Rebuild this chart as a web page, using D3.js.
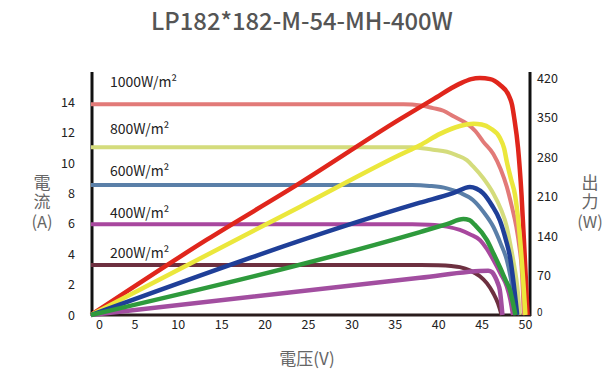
<!DOCTYPE html>
<html>
<head>
<meta charset="utf-8">
<script src="https://cdn.jsdelivr.net/npm/d3@7/dist/d3.min.js"></script>
<style>
  html, body { margin: 0; padding: 0; background: #fff; }
  svg { display: block; }
  text { font-family: "Noto Sans CJK SC", "Noto Sans", sans-serif; }
</style>
</head>
<body>
<svg id="chart" width="604" height="377"></svg>
<script>
// Irradiance levels
const irradiance = ["1000W/m²", "800W/m²", "600W/m²", "400W/m²", "200W/m²"];

// Tick labels
const voltTicks = [0, 5, 10, 15, 20, 25, 30, 35, 40, 45, 50];
const currentTicks = [0, 2, 4, 6, 8, 10, 12, 14];
const powerTicks = [0, 70, 140, 210, 280, 350, 420];

// I-V curves: [voltage V, current A]
const iv1000 = [[0,13.87],[36,13.87],[38,13.8],[39.4,13.62],[40.6,13.45],[41.7,13.1],[43.3,12.6],[44.3,12.1],[45.2,11.4],[46.35,10.6],[47.2,9.6],[47.9,8.45],[48.5,7.1],[49.0,5.8],[49.35,4.5],[49.6,3.2],[49.75,1.6],[49.85,0]];
const iv800 = [[0,11.05],[37,11.05],[39.4,10.88],[41,10.75],[42.1,10.53],[43.3,10.2],[44,9.8],[45.2,9.0],[46.35,8.0],[47.2,7.0],[47.9,5.81],[48.3,4.7],[48.65,3.62],[49.0,2.4],[49.2,1.43],[49.4,0]];
const iv600 = [[0,8.56],[37,8.56],[39,8.5],[41,8.34],[42.5,8.05],[44,7.57],[45.2,6.8],[46.35,5.81],[47.2,4.7],[47.9,3.62],[48.3,2.6],[48.65,1.45],[49.0,0]];
const iv400 = [[0,5.97],[37,5.97],[39,5.94],[41,5.82],[42.5,5.6],[43.7,5.3],[44.8,4.94],[45.6,4.35],[46.35,3.62],[47.2,2.7],[47.9,1.86],[48.3,1.0],[48.6,0]];
const iv200 = [[0,3.29],[38,3.29],[40,3.27],[41.5,3.22],[42.5,3.15],[43.7,2.92],[44.8,2.55],[45.6,2.1],[46.35,1.43],[46.9,0.75],[47.3,0]];

// P-V curves: [voltage V, power W]
const pv1000 = [[0,0],[13.3,133],[24.1,234],[35.6,347],[39.4,382],[42.5,410],[43.8,418],[44.8,420],[46,418],[47.1,408],[48.1,390],[48.5,373],[48.75,350],[49.2,296],[49.6,213],[49.95,110],[50.3,0]];
const pv800 = [[0,0],[24.1,192],[35.6,284],[37.9,301],[40.2,321],[42.5,335],[44.06,339],[45,337.5],[46.0,331],[47.1,314],[47.6,295],[47.9,272],[48.4,240],[48.85,213],[49.4,140],[49.8,60],[50.05,0]];
const pv600 = [[0,0],[37.9,199],[41.7,216],[43.66,227],[44.4,224],[45.16,216],[46.2,194],[47.1,168],[47.8,133],[48.27,103],[48.7,55],[49.1,0]];
const pv400 = [[0,0],[37.9,147],[41,161],[42.9,170],[43.6,168],[44.2,160],[45.6,133],[46.4,108],[47.1,85],[47.7,64],[48.27,44],[48.7,15],[48.9,0]];
const pv200 = [[0,0],[37.9,66],[45.77,78.5],[46.2,76],[46.54,68],[46.9,55],[47.1,44],[47.4,0]];

const ivColors = ["#e27a78", "#d4dc7c", "#5a7fa8", "#a8479e", "#6d3040"];
const pvColors = ["#e0261c", "#ebe73c", "#1f3f98", "#2e9a3c", "#a24ea0"];

const svg = d3.select("#chart");

const x = d3.scaleLinear().domain([0, 50]).range([91, 525]);
const yI = d3.scaleLinear().domain([0, 16]).range([315, 72]);
const yP = d3.scaleLinear().domain([0, 420]).range([315, 78]);

// Title
svg.append("text")
  .attr("x", 302).attr("y", 30)
  .attr("text-anchor", "middle")
  .attr("font-size", 23.8).attr("font-weight", 500)
  .attr("fill", "#555")
  .text("LP182*182-M-54-MH-400W");

// Axis frame lines
svg.append("line").attr("x1", 92).attr("x2", 92).attr("y1", 72).attr("y2", 316)
  .attr("stroke", "#111").attr("stroke-width", 3);
svg.append("line").attr("x1", 530).attr("x2", 530).attr("y1", 72).attr("y2", 316)
  .attr("stroke", "#111").attr("stroke-width", 3);
svg.append("line").attr("x1", 91).attr("x2", 531).attr("y1", 315).attr("y2", 315)
  .attr("stroke", "#2a1c1c").attr("stroke-width", 3);

// Axes (labels only; frame drawn above)
const axX = svg.append("g").attr("transform", "translate(0,315)")
  .call(d3.axisBottom(x).tickValues(voltTicks).tickSize(0).tickPadding(5));
axX.select(".domain").remove();
axX.selectAll(".tick text").filter(d => d === 0).attr("dx", 8);

const axL = svg.append("g").attr("transform", "translate(92,0)")
  .call(d3.axisLeft(yI).tickValues(currentTicks).tickSize(0).tickPadding(17));
axL.select(".domain").remove();

const axR = svg.append("g").attr("transform", "translate(530,0)")
  .call(d3.axisRight(yP).tickValues(powerTicks).tickSize(0).tickPadding(7));
axR.select(".domain").remove();
axR.selectAll(".tick text").filter(d => d === 0).attr("font-size", 10).attr("dy", "0.0em");

svg.selectAll(".tick text")
  .attr("font-family", "'Noto Sans', sans-serif")
  .attr("fill", "#222");
axX.selectAll(".tick text").attr("font-size", 12.5);
axL.selectAll(".tick text").attr("font-size", 12.5);
axR.selectAll(".tick text").filter(d => d !== 0).attr("font-size", 12.5);

// Axis titles: CJK word set vertically, unit underneath
function stackedTitle(cx, word, unit) {
  svg.append("text")
    .attr("x", cx).attr("y", 174)
    .attr("writing-mode", "vertical-rl")
    .attr("letter-spacing", 2)
    .attr("font-size", 17).attr("fill", "#666")
    .text(word);
  svg.append("text")
    .attr("x", cx).attr("y", 228)
    .attr("text-anchor", "middle")
    .attr("font-family", "'Noto Sans', sans-serif")
    .attr("font-size", 16.5).attr("fill", "#666")
    .text(unit);
}
stackedTitle(42, "電流", "(A)");
stackedTitle(590, "出力", "(W)");

svg.append("text")
  .attr("x", 307).attr("y", 365)
  .attr("text-anchor", "middle").attr("font-size", 17).attr("fill", "#666")
  .text("電压(V)");

// Curves
const lineI = d3.line().x(d => x(d[0])).y(d => yI(d[1])).curve(d3.curveMonotoneX);
const lineP = d3.line().x(d => x(d[0])).y(d => yP(d[1])).curve(d3.curveMonotoneX);

const ivSeries = [iv1000, iv800, iv600, iv400, iv200];
const pvSeries = [pv1000, pv800, pv600, pv400, pv200];

svg.append("g").selectAll("path").data(ivSeries).join("path")
  .attr("d", lineI)
  .attr("fill", "none")
  .attr("stroke", (d, i) => ivColors[i])
  .attr("stroke-width", 4)
  .attr("stroke-linejoin", "round");

// drawing order: 200, 1000, 800, 600, 400
const pvOrder = [4, 0, 1, 2, 3];
svg.append("g").selectAll("path").data(pvOrder).join("path")
  .attr("d", i => lineP(pvSeries[i]))
  .attr("fill", "none")
  .attr("stroke", i => pvColors[i])
  .attr("stroke-width", 4.5)
  .attr("stroke-linejoin", "round");

// Irradiance labels above each I-V curve
const labelI = [iv1000[0][1], iv800[0][1], iv600[0][1], iv400[0][1], iv200[0][1]];
const labelGap = [17, 13, 9, 6, 7];
svg.append("g").selectAll("text").data(irradiance).join("text")
  .attr("x", 110)
  .attr("y", (d, i) => yI(labelI[i]) - labelGap[i])
  .attr("font-family", "'Noto Sans', sans-serif")
  .attr("font-size", 14).attr("fill", "#222")
  .text(d => d);
</script>
</body>
</html>
